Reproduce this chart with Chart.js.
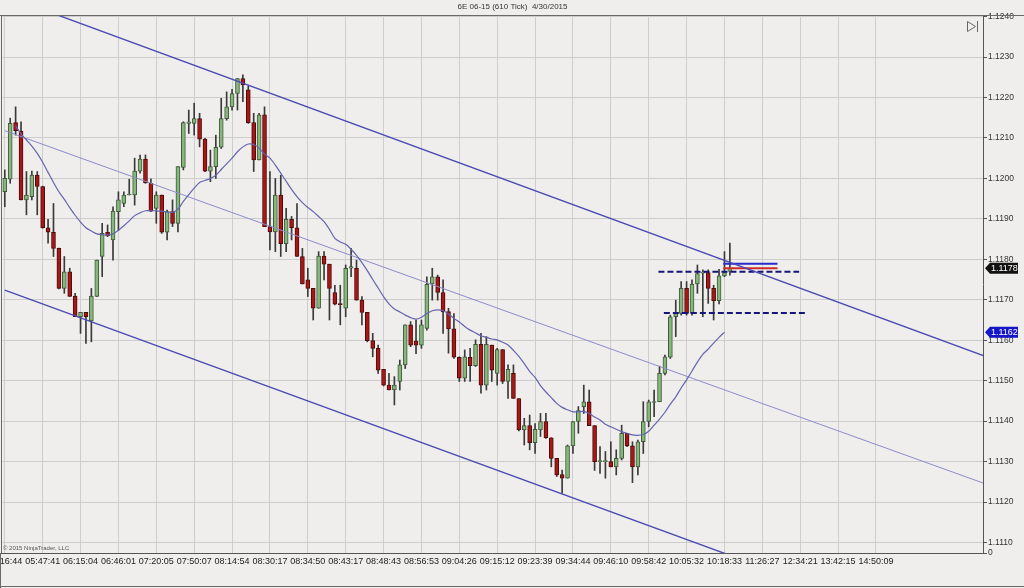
<!DOCTYPE html>
<html>
<head>
<meta charset="utf-8">
<script src="https://cdn.jsdelivr.net/npm/chart.js@4.4.1/dist/chart.umd.min.js"></script>
<style>
  html, body { margin: 0; padding: 0; background: #efeeec; }
  canvas { display: block; }
</style>
</head>
<body>
<canvas id="chart" width="1024" height="588"></canvas>
<script>
// 6E 06-15, 610 tick bars, 4/30/2015
const chartTitle = '6E 06-15 (610 Tick)  4/30/2015';
const copyright = '\u00a9 2015 NinjaTrader, LLC';

// time label every 7 bars
const barsPerLabel = 7;
const timeLabels = ['05:16:44', '05:47:41', '06:15:04', '06:46:01', '07:20:05', '07:50:07', '08:14:54', '08:30:17',
  '08:34:50', '08:43:17', '08:48:43', '08:56:53', '09:04:26', '09:15:12', '09:23:39', '09:34:44', '09:46:10',
  '09:58:42', '10:05:32', '10:18:33', '11:26:27', '12:34:21', '13:42:15', '14:50:09'];

const priceTicks = [1.1110, 1.1120, 1.1130, 1.1140, 1.1150, 1.1160, 1.1170,
  1.1180, 1.1190, 1.1200, 1.1210, 1.1220, 1.1230, 1.1240];
const yMin = 1.11074;
const yMax = 1.12404;

const opens = [
  1.11967, 1.11998, 1.12138, 1.12117, 1.11947, 1.11955, 1.12008, 1.11980, 1.11878, 1.11867,
  1.11827, 1.11728, 1.11769, 1.11709, 1.11658, 1.11669, 1.11648, 1.11708, 1.11807, 1.11867,
  1.11848, 1.11918, 1.11938, 1.11959, 1.11959, 1.12018, 1.12048, 1.11988, 1.11926, 1.11959,
  1.11867, 1.11918, 1.11889, 1.12027, 1.12136, 1.12136, 1.12148, 1.12097, 1.12018, 1.12029,
  1.12077, 1.12148, 1.12177, 1.12210, 1.12247, 1.12219, 1.12138, 1.12046, 1.12157, 1.11881,
  1.11868, 1.11959, 1.11839, 1.11899, 1.11878, 1.11807, 1.11749, 1.11728, 1.11679, 1.11808,
  1.11788, 1.11718, 1.11689, 1.11679, 1.11778, 1.11778, 1.11699, 1.11669, 1.11599, 1.11580,
  1.11528, 1.11489, 1.11477, 1.11498, 1.11539, 1.11638, 1.11598, 1.11588, 1.11629, 1.11739,
  1.11757, 1.11718, 1.11671, 1.11628, 1.11558, 1.11506, 1.11558, 1.11537, 1.11590, 1.11489,
  1.11588, 1.11518, 1.11577, 1.11498, 1.11518, 1.11456, 1.11378, 1.11389, 1.11347, 1.11378,
  1.11399, 1.11359, 1.11308, 1.11268, 1.11259, 1.11339, 1.11399, 1.11436, 1.11448, 1.11389,
  1.11300, 1.11300, 1.11300, 1.11287, 1.11308, 1.11370, 1.11339, 1.11287, 1.11349, 1.11399,
  1.11446, 1.11448, 1.11518, 1.11558, 1.11658, 1.11666, 1.11728, 1.11666, 1.11739, 1.11766,
  1.11767, 1.11728, 1.11698, 1.11759, 1.11770
];
const highs = [
  1.12021, 1.12149, 1.12177, 1.12140, 1.12017, 1.12018, 1.12017, 1.11981, 1.11899, 1.11938,
  1.11828, 1.11807, 1.11778, 1.11716, 1.11669, 1.11669, 1.11728, 1.11798, 1.11889, 1.11885,
  1.11930, 1.11967, 1.11967, 1.11998, 1.12050, 1.12058, 1.12058, 1.11999, 1.11967, 1.11959,
  1.11922, 1.11947, 1.12029, 1.12140, 1.12169, 1.12186, 1.12161, 1.12099, 1.12070, 1.12107,
  1.12198, 1.12214, 1.12220, 1.12247, 1.12256, 1.12228, 1.12161, 1.12161, 1.12177, 1.12017,
  1.12000, 1.12008, 1.11926, 1.11906, 1.11938, 1.11827, 1.11778, 1.11728, 1.11819, 1.11819,
  1.11788, 1.11736, 1.11736, 1.11786, 1.11827, 1.11798, 1.11708, 1.11669, 1.11617, 1.11588,
  1.11528, 1.11518, 1.11510, 1.11551, 1.11638, 1.11646, 1.11650, 1.11650, 1.11757, 1.11778,
  1.11761, 1.11749, 1.11679, 1.11666, 1.11559, 1.11576, 1.11580, 1.11601, 1.11617, 1.11609,
  1.11588, 1.11580, 1.11577, 1.11539, 1.11539, 1.11456, 1.11407, 1.11415, 1.11394, 1.11419,
  1.11419, 1.11359, 1.11308, 1.11279, 1.11341, 1.11399, 1.11436, 1.11489, 1.11477, 1.11389,
  1.11337, 1.11325, 1.11349, 1.11329, 1.11390, 1.11370, 1.11349, 1.11353, 1.11448, 1.11452,
  1.11477, 1.11536, 1.11563, 1.11662, 1.11699, 1.11745, 1.11745, 1.11749, 1.11786, 1.11774,
  1.11774, 1.11736, 1.11775, 1.11819, 1.11840
];
const lows = [
  1.11930, 1.11988, 1.12107, 1.11947, 1.11910, 1.11947, 1.11910, 1.11877, 1.11840, 1.11807,
  1.11727, 1.11716, 1.11708, 1.11658, 1.11617, 1.11592, 1.11596, 1.11708, 1.11757, 1.11856,
  1.11798, 1.11871, 1.11930, 1.11959, 1.11934, 1.12013, 1.11988, 1.11918, 1.11889, 1.11864,
  1.11848, 1.11881, 1.11868, 1.12021, 1.12111, 1.12107, 1.12078, 1.12017, 1.11992, 1.12000,
  1.12074, 1.12144, 1.12169, 1.12169, 1.12190, 1.12136, 1.12017, 1.12046, 1.11881, 1.11823,
  1.11819, 1.11807, 1.11819, 1.11848, 1.11807, 1.11739, 1.11708, 1.11650, 1.11679, 1.11749,
  1.11650, 1.11687, 1.11638, 1.11658, 1.11757, 1.11699, 1.11638, 1.11596, 1.11559, 1.11518,
  1.11487, 1.11477, 1.11440, 1.11477, 1.11530, 1.11584, 1.11567, 1.11580, 1.11625, 1.11699,
  1.11699, 1.11617, 1.11568, 1.11555, 1.11498, 1.11498, 1.11498, 1.11535, 1.11469, 1.11477,
  1.11498, 1.11489, 1.11493, 1.11456, 1.11456, 1.11376, 1.11341, 1.11329, 1.11320, 1.11362,
  1.11357, 1.11287, 1.11263, 1.11222, 1.11259, 1.11320, 1.11370, 1.11419, 1.11389, 1.11278,
  1.11271, 1.11259, 1.11287, 1.11267, 1.11304, 1.11337, 1.11248, 1.11267, 1.11320, 1.11386,
  1.11411, 1.11448, 1.11514, 1.11555, 1.11609, 1.11662, 1.11662, 1.11662, 1.11716, 1.11658,
  1.11691, 1.11650, 1.11690, 1.11757, 1.11761
];
const closes = [
  1.12000, 1.12136, 1.12118, 1.11947, 1.11959, 1.12008, 1.11980, 1.11878, 1.11867, 1.11827,
  1.11728, 1.11769, 1.11708, 1.11658, 1.11669, 1.11658, 1.11709, 1.11798, 1.11864, 1.11858,
  1.11919, 1.11947, 1.11959, 1.11961, 1.12018, 1.12048, 1.11989, 1.11919, 1.11959, 1.11867,
  1.11918, 1.11889, 1.12029, 1.12138, 1.12140, 1.12148, 1.12097, 1.12018, 1.12029, 1.12077,
  1.12148, 1.12177, 1.12210, 1.12247, 1.12231, 1.12138, 1.12046, 1.12157, 1.11881, 1.11868,
  1.11959, 1.11839, 1.11899, 1.11878, 1.11807, 1.11739, 1.11728, 1.11679, 1.11808, 1.11788,
  1.11728, 1.11689, 1.11688, 1.11778, 1.11782, 1.11699, 1.11669, 1.11599, 1.11580, 1.11526,
  1.11489, 1.11477, 1.11489, 1.11539, 1.11638, 1.11588, 1.11588, 1.11638, 1.11738, 1.11757,
  1.11718, 1.11670, 1.11628, 1.11558, 1.11506, 1.11559, 1.11537, 1.11590, 1.11489, 1.11590,
  1.11526, 1.11577, 1.11498, 1.11528, 1.11456, 1.11378, 1.11389, 1.11347, 1.11380, 1.11399,
  1.11359, 1.11308, 1.11267, 1.11259, 1.11339, 1.11399, 1.11426, 1.11448, 1.11389, 1.11300,
  1.11300, 1.11301, 1.11287, 1.11308, 1.11370, 1.11339, 1.11287, 1.11349, 1.11399, 1.11448,
  1.11448, 1.11518, 1.11559, 1.11658, 1.11666, 1.11728, 1.11666, 1.11739, 1.11765, 1.11767,
  1.11728, 1.11698, 1.11759, 1.11767, 1.11778
];

// moving average, as plotted (no value yet for the first two and the live bar)
const maValues = [
  null, null, 1.12130, 1.12110, 1.12095, 1.12080, 1.12062, 1.12040, 1.12015, 1.11990,
  1.11967, 1.11948, 1.11928, 1.11909, 1.11892, 1.11878, 1.11870, 1.11863, 1.11861, 1.11860,
  1.11863, 1.11872, 1.11883, 1.11895, 1.11908, 1.11915, 1.11920, 1.11920, 1.11920, 1.11919,
  1.11917, 1.11916, 1.11924, 1.11943, 1.11960, 1.11976, 1.11990, 1.11995, 1.12000, 1.12008,
  1.12022, 1.12036, 1.12050, 1.12066, 1.12078, 1.12085, 1.12084, 1.12075, 1.12060, 1.12050,
  1.12033, 1.12013, 1.11993, 1.11973, 1.11955, 1.11940, 1.11928, 1.11918, 1.11906, 1.11893,
  1.11874, 1.11852, 1.11843, 1.11837, 1.11825, 1.11810, 1.11792, 1.11772, 1.11750, 1.11729,
  1.11708, 1.11690, 1.11677, 1.11670, 1.11662, 1.11656, 1.11652, 1.11657, 1.11666, 1.11673,
  1.11675, 1.11673, 1.11665, 1.11654, 1.11645, 1.11634, 1.11625, 1.11618, 1.11611, 1.11607,
  1.11603, 1.11601, 1.11595, 1.11588, 1.11575, 1.11560, 1.11542, 1.11523, 1.11508, 1.11488,
  1.11472, 1.11458, 1.11444, 1.11434, 1.11428, 1.11423, 1.11423, 1.11424, 1.11419, 1.11410,
  1.11403, 1.11392, 1.11386, 1.11380, 1.11374, 1.11370, 1.11366, 1.11365, 1.11367, 1.11375,
  1.11390, 1.11405, 1.11422, 1.11442, 1.11460, 1.11482, 1.11502, 1.11524, 1.11546, 1.11565,
  1.11578, 1.11593, 1.11607, 1.11620, null
];

// drawing objects: [bar, price] end points
const upperChannel = [[0, 1.12452], [181, 1.11561]];
const middleChannel = [[0, 1.12118], [181, 1.11246]];
const lowerChannel = [[0, 1.11724], [150, 1.10990]];
const rangeHigh = [[120.8, 1.11769], [146.8, 1.11769]];
const rangeLow = [[121.8, 1.11667], [147.9, 1.11667]];
const blueLevel = [[132.8, 1.11789], [142.8, 1.11789]];
const redLevel = [[132.8, 1.11778], [142.8, 1.11778]];

const FONT = "'Liberation Sans', Arial, sans-serif";
Chart.defaults.font.family = FONT;

const toPoints = pts => pts.map(p => ({ x: p[0], y: p[1] }));
const isDown = i => closes[i] < opens[i];

const lineSet = (pts, color, width, dash) => ({
  type: 'line',
  data: toPoints(pts),
  borderColor: color,
  borderWidth: width,
  borderDash: dash || [],
  pointRadius: 0,
  fill: false,
  order: 2
});

// background, frame, texts and price markers
const decorPlugin = {
  id: 'decor',
  beforeDraw(chart) {
    const ctx = chart.ctx;
    ctx.save();
    ctx.fillStyle = '#efeeec';
    ctx.fillRect(0, 0, chart.width, chart.height);
    ctx.restore();
  },
  afterDraw(chart) {
    const { ctx, chartArea } = chart;
    const y = chart.scales.y;
    ctx.save();
    ctx.strokeStyle = '#6a6a6a';
    ctx.lineWidth = 1;
    ctx.beginPath();
    ctx.moveTo(0, Math.round(chartArea.top) + 0.5);
    ctx.lineTo(chart.width, Math.round(chartArea.top) + 0.5);
    ctx.moveTo(1.5, chartArea.top);
    ctx.lineTo(1.5, chartArea.bottom);
    ctx.moveTo(0.5, chartArea.bottom);
    ctx.lineTo(0.5, chart.height);
    ctx.moveTo(0, chart.height - 1.5);
    ctx.lineTo(chart.width, chart.height - 1.5);
    ctx.stroke();

    // copyright
    ctx.fillStyle = '#555';
    ctx.font = '6px ' + FONT;
    ctx.textBaseline = 'alphabetic';
    ctx.fillText(copyright, 3, chartArea.bottom - 3);

    // scroll-to-end icon
    ctx.strokeStyle = '#666';
    ctx.beginPath();
    ctx.moveTo(967.5, 21.5);
    ctx.lineTo(975.5, 26.5);
    ctx.lineTo(967.5, 31.5);
    ctx.closePath();
    ctx.moveTo(977.5, 21);
    ctx.lineTo(977.5, 32);
    ctx.stroke();

    // price markers on the axis
    const marker = (value, fill) => {
      const py = y.getPixelForValue(value);
      const x0 = chartArea.right + 2;
      ctx.fillStyle = fill;
      ctx.beginPath();
      ctx.moveTo(x0, py);
      ctx.lineTo(x0 + 5, py - 5.5);
      ctx.lineTo(x0 + 33, py - 5.5);
      ctx.lineTo(x0 + 33, py + 5.5);
      ctx.lineTo(x0 + 5, py + 5.5);
      ctx.closePath();
      ctx.fill();
      ctx.fillStyle = '#fff';
      ctx.font = '9px ' + FONT;
      ctx.textBaseline = 'middle';
      ctx.fillText(value.toFixed(4), x0 + 6, py + 0.5);
    };
    marker(closes[closes.length - 1], '#111');
    const lastMa = maValues.filter(v => v !== null).pop();
    marker(lastMa, '#1414c8');
    ctx.restore();
  }
};

new Chart(document.getElementById('chart'), {
  type: 'bar',
  data: {
    datasets: [
      lineSet(upperChannel, '#4b4bb4', 1.4),
      lineSet(middleChannel, '#8c8cc8', 1),
      lineSet(lowerChannel, '#4b4bb4', 1.4),
      lineSet(rangeHigh, '#15157a', 2, [6, 3]),
      lineSet(rangeLow, '#15157a', 2, [6, 3]),
      lineSet(blueLevel, '#2a2ad0', 2),
      lineSet(redLevel, '#d02a2a', 2),
      {
        type: 'line',
        label: 'MA',
        data: maValues.map((v, i) => ({ x: i, y: v })),
        borderColor: '#6464b0',
        borderWidth: 1.2,
        pointRadius: 0,
        tension: 0.3,
        fill: false,
        order: 1
      },
      {
        label: 'wicks',
        data: highs.map((h, i) => ({ x: i, y: [lows[i], h] })),
        backgroundColor: '#3a3a3a',
        barThickness: 1,
        grouped: false,
        order: 5
      },
      {
        label: 'bodies',
        data: opens.map((o, i) => ({ x: i, y: [o, closes[i]] })),
        backgroundColor: opens.map((o, i) => isDown(i) ? '#a81616' : '#86b77c'),
        borderColor: opens.map((o, i) => isDown(i) ? '#4c0c0c' : '#3f5a3a'),
        borderWidth: 1,
        borderSkipped: false,
        barThickness: 4,
        minBarLength: 1,
        grouped: false,
        order: 4
      }
    ]
  },
  options: {
    responsive: false,
    animation: false,
    devicePixelRatio: 1,
    layout: { padding: { left: 1, right: 0, top: 0, bottom: 15 } },
    plugins: {
      legend: { display: false },
      tooltip: { enabled: false },
      title: {
        display: true,
        text: chartTitle,
        color: '#333',
        font: { size: 8, weight: 'normal' },
        padding: { top: 2, bottom: 3.4 }
      }
    },
    scales: {
      x: {
        type: 'linear',
        min: -0.7,
        max: 180.78,
        bounds: 'data',
        offset: false,
        grid: { color: '#cdcdcd', drawTicks: false, offset: false },
        border: { display: true, color: '#555' },
        afterBuildTicks: scale => {
          scale.ticks = timeLabels.map((t, k) => ({ value: k * barsPerLabel }));
        },
        afterFit: scale => {
          scale.height = 20;
          scale.paddingLeft = 0;
          scale.paddingRight = 0;
        },
        ticks: {
          autoSkip: false,
          maxRotation: 0,
          minRotation: 0,
          padding: 3,
          color: '#222',
          font: { size: 9 },
          callback: value => timeLabels[Math.round(value / barsPerLabel)]
        }
      },
      y: {
        type: 'linear',
        position: 'right',
        min: yMin,
        max: yMax,
        bounds: 'data',
        beginAtZero: false,
        grid: { color: '#cdcdcd', tickLength: 4, tickColor: '#555' },
        border: { display: true, color: '#555' },
        afterBuildTicks: scale => {
          scale.ticks = [{ value: yMin }].concat(priceTicks.map(v => ({ value: v })));
        },
        afterFit: scale => {
          scale.width = 41;
          scale.paddingTop = 0;
          scale.paddingBottom = 0;
        },
        ticks: {
          autoSkip: false,
          padding: 1,
          color: '#333',
          font: { size: 8.5 },
          callback: value => value < 1.1109 ? '0' : value.toFixed(4)
        }
      }
    }
  },
  plugins: [decorPlugin]
});
</script>
</body>
</html>
